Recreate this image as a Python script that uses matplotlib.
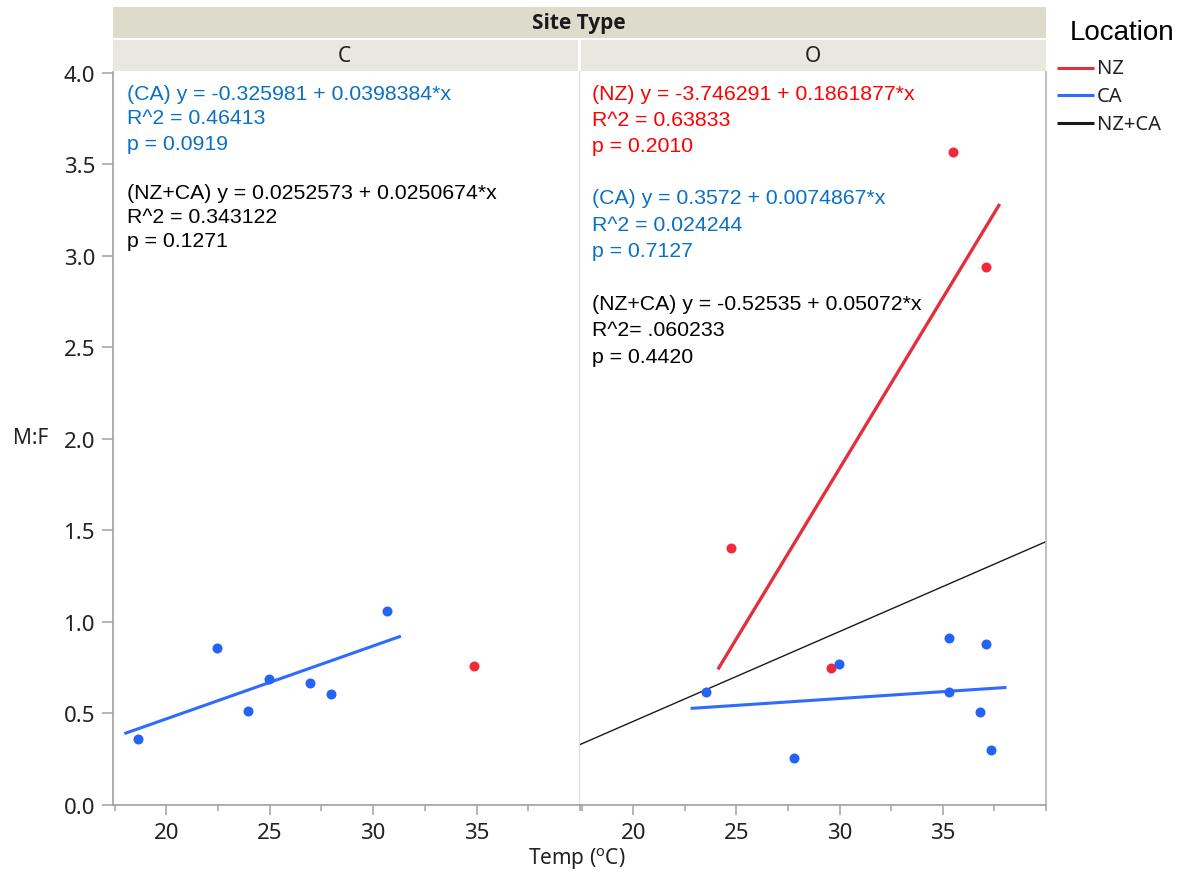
import matplotlib
matplotlib.use('Agg')
import matplotlib.pyplot as plt
from matplotlib.lines import Line2D
from matplotlib.patches import Rectangle
import numpy as np

# ---------------- data ----------------
site_types = ['C', 'O']
locations = ['NZ', 'CA', 'NZ+CA']

# Site type C
c_ca_temp = [18.64, 22.44, 23.94, 24.98, 26.95, 27.97, 30.67]
c_ca_mf = [0.358, 0.857, 0.513, 0.690, 0.666, 0.604, 1.062]
c_nz_temp = [34.89]
c_nz_mf = [0.762]

# Site type O
o_nz_temp = [24.76, 29.58, 35.49, 37.10]
o_nz_mf = [1.402, 0.747, 3.570, 2.941]
o_ca_temp = [23.54, 27.77, 29.99, 35.29, 35.29, 36.82, 37.10, 37.32]
o_ca_mf = [0.616, 0.255, 0.773, 0.911, 0.619, 0.507, 0.881, 0.298]

# fitted lines (intercept, slope)
c_ca_fit = (-0.325981, 0.0398384)
o_nz_fit = (-3.746291, 0.1861877)
o_ca_fit = (0.3572, 0.0074867)
o_all_fit = (-0.525, 0.0491)   # NZ+CA line as drawn

c_text = [
    ['(CA) y = -0.325981 + 0.0398384*x', 'R^2 = 0.46413', 'p = 0.0919'],
    ['(NZ+CA) y = 0.0252573 + 0.0250674*x', 'R^2 = 0.343122', 'p = 0.1271'],
]
o_text = [
    ['(NZ) y = -3.746291 + 0.1861877*x', 'R^2 = 0.63833', 'p = 0.2010'],
    ['(CA) y = 0.3572 + 0.0074867*x', 'R^2 = 0.024244', 'p = 0.7127'],
    ['(NZ+CA) y = -0.52535 + 0.05072*x', 'R^2= .060233', 'p = 0.4420'],
]

x_major = [20, 25, 30, 35]
x_minor = [17.5, 22.5, 27.5, 32.5, 37.5, 40]
y_ticks = [0.0, 0.5, 1.0, 1.5, 2.0, 2.5, 3.0, 3.5, 4.0]

# ---------------- style ----------------
W, H = 1186, 878
RED_PT = '#EE2A3C'
BLUE_PT = '#2463F5'
RED_LN = '#E2303F'
BLUE_LN = '#2F6BFF'
TXT_BLUE = '#0A70C4'
TXT_RED = '#FF0000'
AX_GRAY = '#A0A0A0'
UI = 'Noto Sans'
ARIAL = 'Liberation Sans'

plt.rcParams['font.family'] = [UI, 'DejaVu Sans']
plt.rcParams['mathtext.default'] = 'regular'

fig = plt.figure(figsize=(W / 100, H / 100), dpi=100)


def fx(px):
    return px / W


def fy(py):
    return 1 - py / H


ax_top, ax_bot = 73, 806
axL = fig.add_axes([fx(113), fy(ax_bot), fx(580) - fx(113), fy(ax_top) - fy(ax_bot)])
axR = fig.add_axes([fx(580), fy(ax_bot), fx(1046) - fx(580), fy(ax_top) - fy(ax_bot)])


def fit_range(xs):
    lo, hi = min(xs), max(xs)
    pad = 0.05 * (hi - lo)
    return np.array([lo - pad, hi + pad])


for ax in (axL, axR):
    ax.set_xlim(17.42, 40.0)
    ax.set_ylim(0, 4.005)
    ax.set_xticks(x_major)
    ax.set_xticks(x_minor, minor=True)
    ax.set_xticklabels([str(v) for v in x_major])
    ax.tick_params(axis='x', which='major', length=7.5, width=1.1, color=AX_GRAY,
                   pad=4.5, labelsize=16, labelcolor='#222222')
    ax.tick_params(axis='x', which='minor', length=4.3, width=1.1, color=AX_GRAY)
    ax.spines['top'].set_visible(False)
    ax.spines['bottom'].set_color(AX_GRAY)
    ax.spines['bottom'].set_linewidth(1.2)

axL.set_yticks(y_ticks)
axL.set_yticklabels([f'{v:.1f}' for v in y_ticks])
axL.tick_params(axis='y', length=8, width=1.1, color=AX_GRAY, pad=5,
                labelsize=16, labelcolor='#222222')
axL.spines['left'].set_color(AX_GRAY)
axL.spines['left'].set_linewidth(1.2)
axL.spines['right'].set_color('#D6D6D6')
axL.spines['right'].set_linewidth(1.2)

axR.set_yticks([])
axR.spines['left'].set_visible(False)
axR.spines['right'].set_color('#B4B4B4')
axR.spines['right'].set_linewidth(1.2)

ms = 52
# --- panel C ---
xs = fit_range(c_ca_temp)
axL.plot(xs, c_ca_fit[0] + c_ca_fit[1] * xs, color=BLUE_LN, lw=2.2, zorder=2)
axL.scatter(c_ca_temp, c_ca_mf, s=ms, color=BLUE_PT, zorder=3, linewidths=0)
axL.scatter(c_nz_temp, c_nz_mf, s=ms, color=RED_PT, zorder=3, linewidths=0)

# --- panel O ---
axR.axline((0, o_all_fit[0]), slope=o_all_fit[1], color='#1A1A1A', lw=1.0, zorder=2)
xs = fit_range(o_nz_temp)
axR.plot(xs, o_nz_fit[0] + o_nz_fit[1] * xs, color=RED_LN, lw=2.4, zorder=2)
xs = fit_range(o_ca_temp)
axR.plot(xs, o_ca_fit[0] + o_ca_fit[1] * xs, color=BLUE_LN, lw=2.2, zorder=2)
axR.scatter(o_nz_temp, o_nz_mf, s=ms, color=RED_PT, zorder=3, linewidths=0)
axR.scatter(o_ca_temp, o_ca_mf, s=ms, color=BLUE_PT, zorder=3, linewidths=0)

# --- annotation text ---
def ax_y(py):
    return (ax_bot - py) / (ax_bot - ax_top)


c_baselines = [[100, 124.5, 150], [199, 223, 247.5]]
c_colors = [TXT_BLUE, 'black']
for block, bls, col in zip(c_text, c_baselines, c_colors):
    for s, b in zip(block, bls):
        axL.text((127 - 113) / 467, ax_y(b), s, transform=axL.transAxes, color=col,
                 fontsize=15.3, family=ARIAL, va='baseline', ha='left')

o_baselines = [[99.5, 125.5, 151.5], [204.5, 231, 257], [310, 336.5, 363]]
o_colors = [TXT_RED, TXT_BLUE, 'black']
for block, bls, col in zip(o_text, o_baselines, o_colors):
    for s, b in zip(block, bls):
        axR.text((592 - 580) / 466, ax_y(b), s, transform=axR.transAxes, color=col,
                 fontsize=15.3, family=ARIAL, va='baseline', ha='left')

# --- header bands ---
fig.add_artist(Rectangle((fx(113), fy(39)), fx(1046) - fx(113), fy(8) - fy(39),
                         transform=fig.transFigure, facecolor='#DDDBCC', edgecolor='none'))
fig.add_artist(Rectangle((fx(113), fy(72)), fx(577.5) - fx(113), fy(40.5) - fy(72),
                         transform=fig.transFigure, facecolor='#E8E8E0', edgecolor='none'))
fig.add_artist(Rectangle((fx(581), fy(72)), fx(1046) - fx(581), fy(40.5) - fy(72),
                         transform=fig.transFigure, facecolor='#E8E8E0', edgecolor='none'))
fig.text(fx(579), fy(24), 'Site Type', ha='center', va='center', fontsize=15,
         fontweight='bold', family=['Open Sans', 'Roboto', 'DejaVu Sans'], color='#1A1A1A')
fig.text(fx(344), fy(56), site_types[0], ha='center', va='center', fontsize=15, color='#222222')
fig.text(fx(813), fy(56), site_types[1], ha='center', va='center', fontsize=15, color='#222222')

# --- axis titles ---
fig.text(fx(577), fy(859), 'Temp ($^{o}$C)', ha='center', va='center', fontsize=15,
         color='#222222')
fig.text(fx(31), fy(438), 'M:F', ha='center', va='center', fontsize=15, color='#222222')

# --- legend ---
fig.text(fx(1070), fy(33), 'Location', ha='left', va='center', fontsize=20, family=ARIAL,
         color='black')
leg_colors = [RED_LN, BLUE_LN, '#1A1A1A']
leg_y = [68.5, 96, 123.5]
for lab, col, yy in zip(locations, leg_colors, leg_y):
    fig.add_artist(Line2D([fx(1057), fx(1094)], [fy(yy), fy(yy)], transform=fig.transFigure,
                          color=col, lw=2.2, solid_capstyle='butt'))
    fig.text(fx(1097), fy(yy + 1), lab, ha='left', va='center', fontsize=14.5, color='#222222')

fig.savefig('out.png', dpi=100)
